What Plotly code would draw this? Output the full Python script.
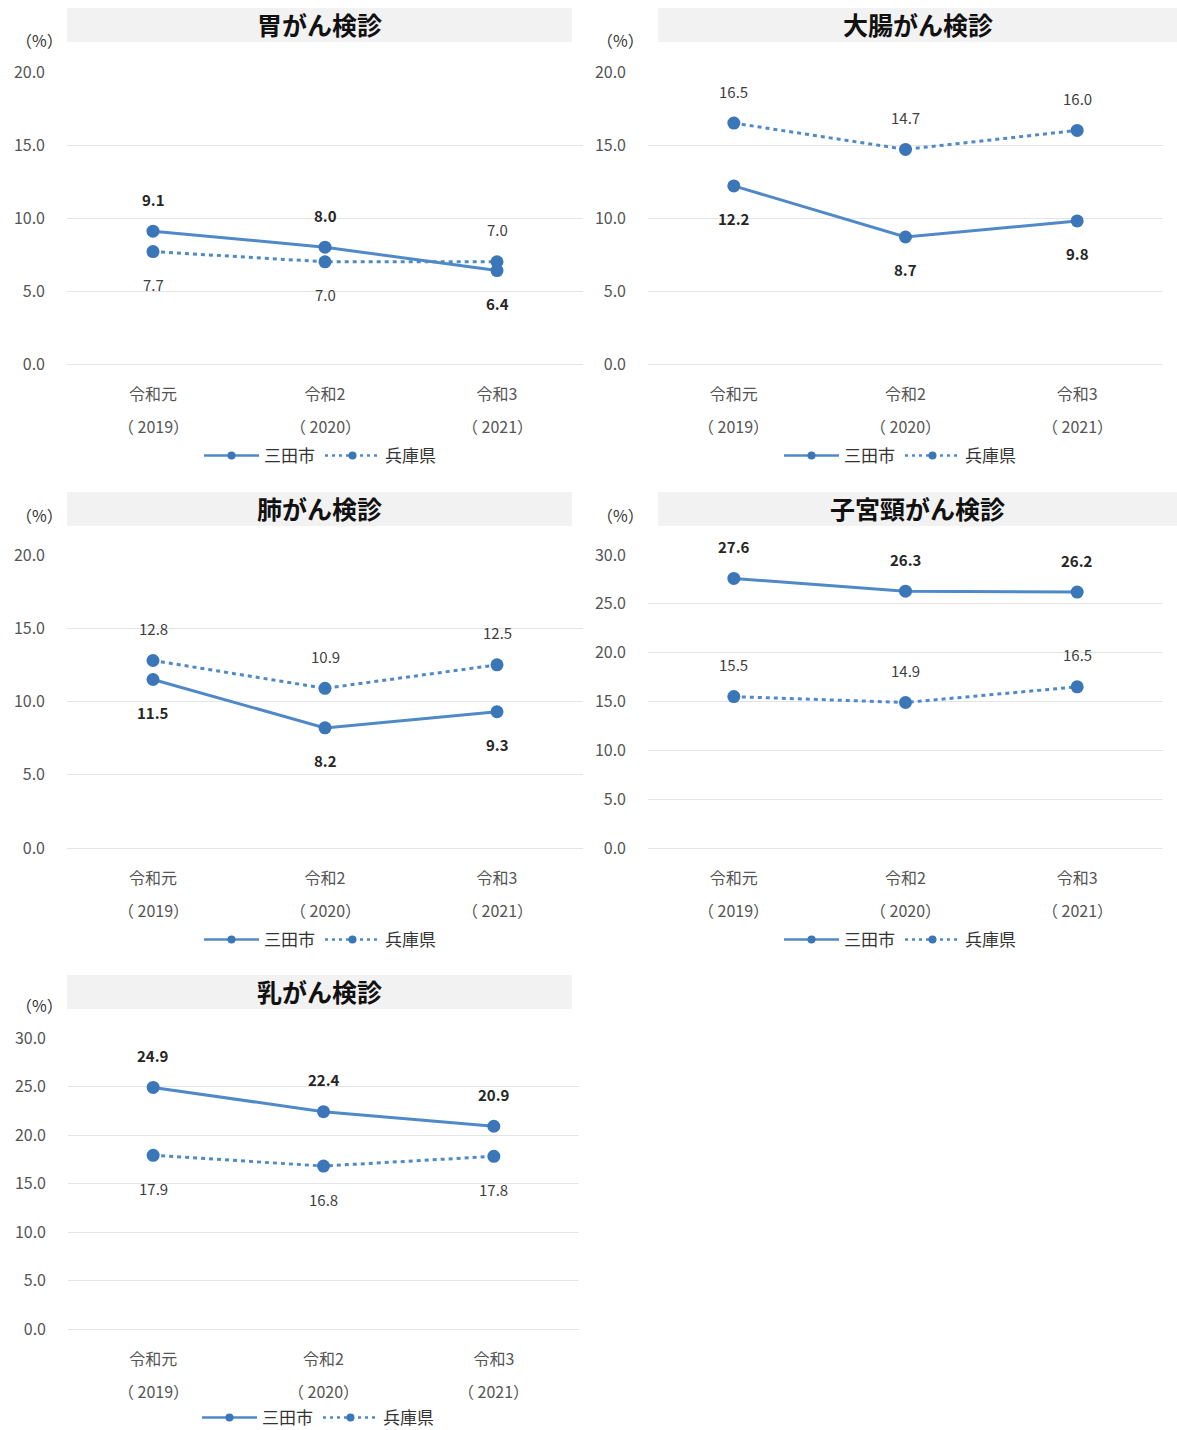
import plotly.graph_objects as go

W, H = 1177, 1430

# Fiscal years on the category axis
era_labels = ["令和元", "令和2", "令和3"]
year_labels = ["2019", "2020", "2021"]

series_names = ["三田市", "兵庫県"]

# Screening uptake rates (%)
stomach_city = [9.1, 8.0, 6.4]
stomach_pref = [7.7, 7.0, 7.0]
colon_city = [12.2, 8.7, 9.8]
colon_pref = [16.5, 14.7, 16.0]
lung_city = [11.5, 8.2, 9.3]
lung_pref = [12.8, 10.9, 12.5]
cervical_city = [27.6, 26.3, 26.2]
cervical_pref = [15.5, 14.9, 16.5]
breast_city = [24.9, 22.4, 20.9]
breast_pref = [17.9, 16.8, 17.8]

panel_titles = ["胃がん検診", "大腸がん検診", "肺がん検診", "子宮頸がん検診", "乳がん検診"]
y_maxes = [20, 20, 20, 30, 30]

FONT = "Noto Sans CJK JP"
LINE = "#5089c8"
MARK = "#3a76b8"
GRID = "#e4e4e4"
TICK = "#555555"

# Layout of each panel in pixels: plot area (left, right, top, bottom),
# title band (left, right, top, bottom), "(%)" unit position, legend centre,
# and where each series' value labels sit (t = above, b = below)
panels = [
    dict(plot=(67, 583, 72, 364), band=(67, 572, 8, 42), unit=(39, 40), legend=(320, 456),
         place=(["t", "t", "b"], ["b", "b", "t"])),
    dict(plot=(648, 1163, 72, 364), band=(658, 1177, 8, 42), unit=(620, 40), legend=(900, 456),
         place=(["b", "b", "b"], ["t", "t", "t"])),
    dict(plot=(67, 583, 555, 848), band=(67, 572, 492, 526), unit=(39, 515), legend=(320, 940),
         place=(["b", "b", "b"], ["t", "t", "t"])),
    dict(plot=(648, 1163, 555, 848), band=(658, 1177, 492, 526), unit=(620, 515), legend=(900, 940),
         place=(["t", "t", "t"], ["t", "t", "t"])),
    dict(plot=(68, 579, 1038, 1329), band=(67, 572, 975, 1009), unit=(39, 1005), legend=(318, 1418),
         place=(["t", "t", "t"], ["b", "b", "b"])),
]
city_values = [stomach_city, colon_city, lung_city, cervical_city, breast_city]
pref_values = [stomach_pref, colon_pref, lung_pref, cervical_pref, breast_pref]


def fx(px):
    return px / W


def fy(py):
    return 1 - py / H


categories = era_labels

fig = go.Figure()
shapes = []
annotations = []

for i, p in enumerate(panels):
    n = "" if i == 0 else str(i + 1)
    xa, ya = "x" + n, "y" + n
    lg = "legend" + n
    l, r, t, b = p["plot"]

    for name, vals, dash, place in [
        (series_names[0], city_values[i], "solid", p["place"][0]),
        (series_names[1], pref_values[i], "4px,4px", p["place"][1]),
    ]:
        fig.add_trace(go.Scatter(
            x=categories, y=vals, name=name, mode="lines+markers",
            line=dict(color=LINE, width=3, dash=dash),
            marker=dict(color=MARK, size=13),
            xaxis=xa, yaxis=ya, showlegend=False,
        ))
        # slimmer key entry for the legend
        fig.add_trace(go.Scatter(
            x=[None], y=[None], name=name, mode="lines+markers",
            line=dict(color=LINE, width=2.5, dash="solid" if dash == "solid" else "3px,4px"),
            marker=dict(color=MARK, size=8),
            xaxis=xa, yaxis=ya, legend=lg, hoverinfo="skip",
        ))
        bold = name == series_names[0]
        for c, v, pos in zip(categories, vals, place):
            annotations.append(dict(
                x=c, y=v, xref=xa, yref=ya, text=f"<b>{v:.1f}</b>" if bold else f"{v:.1f}",
                showarrow=False, yshift=32 if pos == "t" else -33,
                font=dict(family=FONT, size=15, color="#262626" if bold else "#3f3f3f"),
            ))

    # second line of each category label: the western year
    for c, yr in zip(categories, year_labels):
        annotations.append(dict(
            x=c, y=fy(b + 62), xref=xa, yref="paper", text=f"（ {yr}）",
            showarrow=False, xanchor="center", yanchor="middle",
            font=dict(family=FONT, size=16, color=TICK),
        ))

    fig.layout["xaxis" + n] = dict(
        domain=[fx(l), fx(r)], anchor=ya, type="category", range=[-0.5, 2.5],
        showgrid=False, showline=False, zeroline=False, ticks="",
        ticklabelstandoff=19,
        tickfont=dict(family=FONT, size=16, color=TICK),
        fixedrange=True,
    )
    fig.layout["yaxis" + n] = dict(
        domain=[fy(b), fy(t)], anchor=xa, range=[0, y_maxes[i]], dtick=5,
        tickformat=".1f", showgrid=True, gridcolor=GRID, gridwidth=1,
        zeroline=True, zerolinecolor=GRID, zerolinewidth=1, showline=False, ticks="",
        ticklabelstandoff=21,
        tickfont=dict(family=FONT, size=16, color=TICK),
        fixedrange=True,
    )

    bl, br, bt, bb = p["band"]
    shapes.append(dict(type="rect", xref="paper", yref="paper",
                       x0=fx(bl), x1=fx(br), y0=fy(bb), y1=fy(bt),
                       fillcolor="#f2f2f2", line=dict(width=0), layer="below"))
    annotations.append(dict(x=fx((bl + br) / 2), y=fy((bt + bb) / 2 - 1), xref="paper", yref="paper",
                            text=f"<b>{panel_titles[i]}</b>", showarrow=False,
                            xanchor="center", yanchor="middle",
                            font=dict(family=FONT, size=25, color="#111111")))
    ux, uy = p["unit"]
    annotations.append(dict(x=fx(ux), y=fy(uy), xref="paper", yref="paper", text="（%）",
                            showarrow=False, xanchor="center", yanchor="middle",
                            font=dict(family=FONT, size=16, color="#333333")))

    gx, gy = p["legend"]
    fig.layout[lg] = dict(
        x=fx(gx), y=fy(gy), xanchor="center", yanchor="middle", orientation="h",
        font=dict(family=FONT, size=17, color="#333333"), bgcolor="rgba(0,0,0,0)",
        itemwidth=55, tracegroupgap=0,
    )

fig.update_layout(
    width=W, height=H, margin=dict(l=0, r=0, t=0, b=0, autoexpand=False),
    paper_bgcolor="white", plot_bgcolor="white",
    shapes=shapes, annotations=annotations, showlegend=True,
    font=dict(family=FONT),
)

fig.write_html("out.html")
